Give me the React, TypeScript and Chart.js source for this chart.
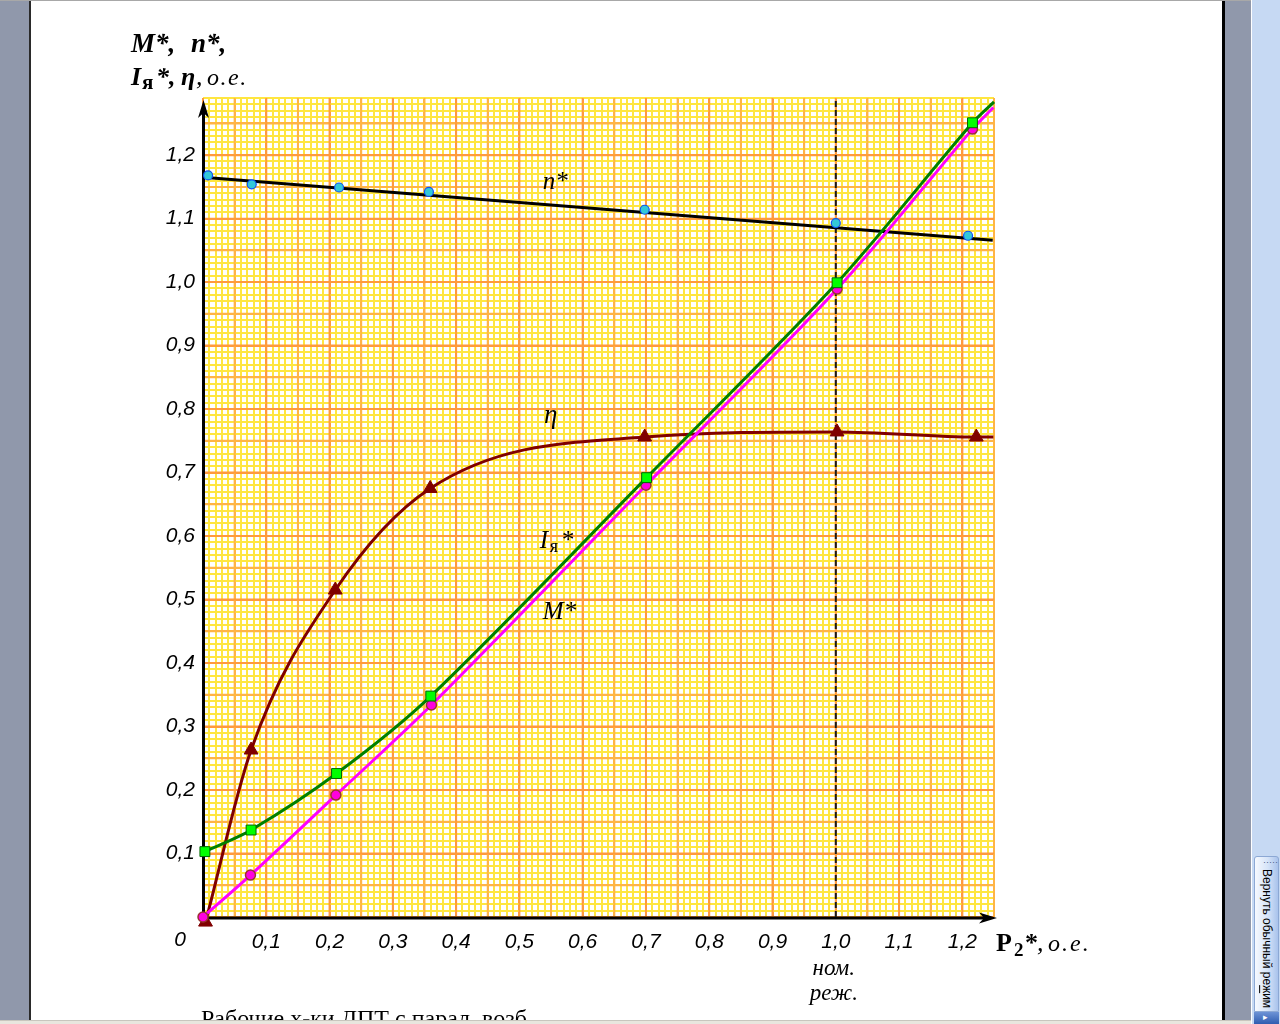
import React, { useEffect, useRef } from 'react';
import { Chart, registerables } from 'chart.js';

Chart.register(...registerables);

// ---- data (P2*, o.e.) ----
const N_P2 = [0.008, 0.077, 0.215, 0.357, 0.698, 1.0, 1.209];
const N_VAL = [1.168, 1.154, 1.149, 1.142, 1.114, 1.093, 1.073];
const N_FIT_P2 = [0, 1.248];
const N_FIT_VAL = [1.165, 1.066];

const M_P2 = [0, 0.075, 0.21, 0.361, 0.7, 1.002, 1.216];
const M_VAL = [0, 0.066, 0.192, 0.334, 0.68, 0.989, 1.241];
const M_END = [1.249, 1.275];

const I_P2 = [0.003, 0.076, 0.211, 0.36, 0.701, 1.002, 1.216];
const I_VAL = [0.103, 0.137, 0.226, 0.348, 0.692, 0.999, 1.251];
const I_END = [1.25, 1.284];

const ETA_P2 = [0.004, 0.076, 0.209, 0.359, 0.698, 1.002, 1.222];
const ETA_VAL = [-0.008, 0.263, 0.515, 0.675, 0.756, 0.764, 0.756];
const ETA_END = [1.249, 0.756];

const NOMINAL_P2 = 1.0;
const X_MAX = 1.25;
const Y_MAX = 1.29;
const GRID_STEP = 0.01;

const X_TICK_LABELS = ['0,1', '0,2', '0,3', '0,4', '0,5', '0,6', '0,7', '0,8', '0,9', '1,0', '1,1', '1,2'];
const Y_TICK_LABELS = ['0,1', '0,2', '0,3', '0,4', '0,5', '0,6', '0,7', '0,8', '0,9', '1,0', '1,1', '1,2'];

// ---- styles ----
const MINOR = '#FFE640';
const MID = '#FFB446';
const MAJOR = '#FF9A3D';
const SERIF = '"Liberation Serif", "Times New Roman", serif';
const SANS = '"Liberation Sans", Arial, sans-serif';

const pts = (xs: number[], ys: number[]) => xs.map((v, i) => ({ x: v, y: ys[i] }));
const withEnd = (xs: number[], ys: number[], end: number[]) => [...pts(xs, ys), { x: end[0], y: end[1] }];
const radii = (n: number, r: number) => [...Array(n).fill(r), 0];

const labelFor = (arr: string[]) => (v: number) => {
  const k = Math.round(v * 100);
  if (k > 0 && k % 10 === 0) return arr[k / 10 - 1] ?? '';
  return '';
};

const gridColor = (ctx: any) => {
  const k = Math.round(((ctx.tick && ctx.tick.value) || 0) * 100);
  return k % 10 === 0 ? MAJOR : k % 5 === 0 ? MID : MINOR;
};

const paperPlugin = {
  id: 'paper',
  beforeDatasetsDraw(chart: any) {
    const { ctx, chartArea: a, scales } = chart;
    const xs = scales.x;
    const ys = scales.y;
    ctx.save();
    for (const pass of [5, 10]) {
      ctx.strokeStyle = pass === 10 ? MAJOR : MID;
      ctx.lineWidth = 2;
      for (const t of xs.ticks) {
        const k = Math.round(t.value * 100);
        if (k % 5 !== 0 || (pass === 5 && k % 10 === 0) || (pass === 10 && k % 10 !== 0)) continue;
        const p = xs.getPixelForValue(t.value);
        ctx.beginPath();
        ctx.moveTo(p, a.top);
        ctx.lineTo(p, a.bottom);
        ctx.stroke();
      }
      for (const t of ys.ticks) {
        const k = Math.round(t.value * 100);
        if (k % 5 !== 0 || (pass === 5 && k % 10 === 0) || (pass === 10 && k % 10 !== 0)) continue;
        const p = ys.getPixelForValue(t.value);
        ctx.beginPath();
        ctx.moveTo(a.left, p);
        ctx.lineTo(a.right, p);
        ctx.stroke();
      }
    }
    // axes with arrows
    const x0 = xs.getPixelForValue(0) + 0.5;
    const y0 = ys.getPixelForValue(0) + 1;
    ctx.strokeStyle = '#000';
    ctx.fillStyle = '#000';
    ctx.lineWidth = 3;
    ctx.beginPath();
    ctx.moveTo(x0, y0 + 1.5);
    ctx.lineTo(x0, a.top + 12);
    ctx.stroke();
    ctx.beginPath();
    ctx.moveTo(x0 - 1.5, y0);
    ctx.lineTo(a.right - 6, y0);
    ctx.stroke();
    const ty = a.top + 2;
    ctx.beginPath();
    ctx.moveTo(x0, ty);
    ctx.lineTo(x0 + 5.5, ty + 18);
    ctx.lineTo(x0, ty + 13);
    ctx.lineTo(x0 - 5.5, ty + 18);
    ctx.closePath();
    ctx.fill();
    const tx = a.right + 3;
    ctx.beginPath();
    ctx.moveTo(tx, y0);
    ctx.lineTo(tx - 18, y0 - 5.5);
    ctx.lineTo(tx - 13, y0);
    ctx.lineTo(tx - 18, y0 + 5.5);
    ctx.closePath();
    ctx.fill();
    ctx.restore();
  },
};

type Run = { t: string; x: number; y: number; font: string; ls?: number; align?: CanvasTextAlign };

const textPlugin = {
  id: 'texts',
  afterDraw(chart: any) {
    const { ctx, scales } = chart;
    const xs = scales.x;
    const ys = scales.y;
    const X = (v: number) => xs.getPixelForValue(v);
    const Y = (v: number) => ys.getPixelForValue(v);
    const BI = (s: number) => `italic bold ${s}px ${SERIF}`;
    const B = (s: number) => `bold ${s}px ${SERIF}`;
    const It = (s: number) => `italic ${s}px ${SERIF}`;
    const R = (s: number) => `${s}px ${SERIF}`;
    const runs: Run[] = [
      // y-axis title
      { t: 'M*,', x: 131, y: 52, font: BI(27) },
      { t: 'n*,', x: 191, y: 52, font: BI(27) },
      { t: 'I', x: 131, y: 85, font: BI(26) },
      { t: 'я', x: 142, y: 89, font: B(21) },
      { t: '*,', x: 156, y: 85, font: BI(26) },
      { t: 'η', x: 181, y: 85, font: BI(26) },
      { t: ',', x: 196, y: 85, font: It(26) },
      { t: 'о.е.', x: 207, y: 85, font: It(24), ls: 1.5 },
      // x-axis title
      { t: 'P', x: 996, y: 951, font: B(26) },
      { t: '2', x: 1014, y: 956, font: B(19) },
      { t: '*', x: 1025, y: 951, font: B(26) },
      { t: ',', x: 1037, y: 951, font: It(26) },
      { t: 'о.е.', x: 1048, y: 951, font: It(24), ls: 2 },
      // origin
      { t: '0', x: 180, y: 946, font: `italic 21px ${SANS}`, align: 'center' },
      // nominal
      { t: 'ном.', x: X(NOMINAL_P2) - 2, y: 975, font: It(23), align: 'center' },
      { t: 'реж.', x: X(NOMINAL_P2) - 2, y: 1000, font: It(23), align: 'center' },
      // caption
      { t: 'Рабочие х-ки ДПТ с парал. возб.', x: 201, y: 1026, font: R(24) },
      // curve labels
      { t: 'n*', x: X(0.537), y: Y(1.147), font: It(25) },
      { t: 'η', x: X(0.539), y: Y(0.778), font: It(27) },
      { t: 'I', x: X(0.532), y: Y(0.581), font: It(25) },
      { t: 'я', x: X(0.532) + 10, y: Y(0.581) + 4, font: R(18) },
      { t: '*', x: X(0.532) + 21, y: Y(0.581), font: It(25) },
      { t: 'M*', x: X(0.537), y: Y(0.469), font: It(25) },
    ];
    ctx.save();
    ctx.fillStyle = '#000';
    ctx.textBaseline = 'alphabetic';
    for (const r of runs) {
      ctx.font = r.font;
      (ctx as any).letterSpacing = `${r.ls || 0}px`;
      ctx.textAlign = r.align || 'left';
      ctx.fillText(r.t, r.x, r.y);
    }
    ctx.restore();
  },
};

export default function App() {
  const ref = useRef<HTMLCanvasElement>(null);
  useEffect(() => {
    const canvas = ref.current;
    if (!canvas) return;
    const chart = new Chart(canvas, {
      type: 'line',
      data: {
        datasets: [
          {
            label: 'ном.',
            data: [{ x: NOMINAL_P2, y: 0 }, { x: NOMINAL_P2, y: Y_MAX }],
            borderColor: '#1a1a1a',
            borderWidth: 2,
            borderDash: [6, 3],
            pointRadius: 0,
            order: 9,
          },
          {
            label: 'n* fit',
            data: pts(N_FIT_P2, N_FIT_VAL),
            borderColor: '#000',
            borderWidth: 3,
            pointRadius: 0,
            order: 8,
          },
          {
            label: 'n*',
            data: pts(N_P2, N_VAL),
            showLine: false,
            pointRadius: 4.5,
            pointStyle: 'circle',
            pointBackgroundColor: '#33C8D8',
            pointBorderColor: '#1050F0',
            pointBorderWidth: 1.2,
            order: 7,
          },
          {
            label: 'η',
            data: withEnd(ETA_P2, ETA_VAL, ETA_END),
            borderColor: '#800000',
            borderWidth: 3,
            cubicInterpolationMode: 'monotone',
            pointRadius: radii(ETA_P2.length, 8),
            pointStyle: 'triangle',
            pointBackgroundColor: '#800000',
            pointBorderColor: '#800000',
            pointBorderWidth: 1,
            clip: 14,
            order: 4,
          },
          {
            label: 'M*',
            data: withEnd(M_P2, M_VAL, M_END),
            borderColor: '#FF00FF',
            borderWidth: 3,
            tension: 0.3,
            pointRadius: radii(M_P2.length, 5),
            pointStyle: 'circle',
            pointBackgroundColor: '#FF00E0',
            pointBorderColor: '#993333',
            pointBorderWidth: 1.5,
            clip: 14,
            order: 3,
          },
          {
            label: 'Iя*',
            data: withEnd(I_P2, I_VAL, I_END),
            borderColor: '#008000',
            borderWidth: 3,
            tension: 0.3,
            pointRadius: radii(I_P2.length, 7),
            pointStyle: 'rect',
            pointBackgroundColor: '#00FF00',
            pointBorderColor: '#006400',
            pointBorderWidth: 1,
            clip: 14,
            order: 2,
          },
        ],
      },
      options: {
        animation: false,
        responsive: false,
        events: [],
        layout: { autoPadding: false, padding: { left: 0, top: 98, right: 1280 - 994, bottom: 0 } },
        plugins: { legend: { display: false }, tooltip: { enabled: false }, title: { display: false } },
        scales: {
          x: {
            type: 'linear',
            min: 0,
            max: X_MAX,
            afterFit: (s: any) => { s.height = 1024 - 917; },
            border: { display: false },
            grid: { color: gridColor, lineWidth: 2, drawTicks: false },
            ticks: {
              stepSize: GRID_STEP,
              autoSkip: false,
              maxRotation: 0,
              padding: 13,
              color: '#000',
              font: { family: SANS, size: 21, style: 'italic' },
              callback: (v: any) => labelFor(X_TICK_LABELS)(Number(v)),
            },
          },
          y: {
            type: 'linear',
            min: 0,
            max: Y_MAX,
            afterFit: (s: any) => { s.width = 203; },
            border: { display: false },
            grid: { color: gridColor, lineWidth: 2, drawTicks: false },
            ticks: {
              stepSize: GRID_STEP,
              autoSkip: false,
              padding: 8,
              color: '#000',
              font: { family: SANS, size: 21, style: 'italic', lineHeight: 0.01 },
              callback: (v: any) => labelFor(Y_TICK_LABELS)(Number(v)),
            },
          },
        },
      } as any,
      plugins: [paperPlugin, textPlugin],
    });
    return () => chart.destroy();
  }, []);

  const abs = (l: number, t: number, w: number, h: number, extra: any = {}) => ({
    position: 'absolute' as const, left: l, top: t, width: w, height: h, ...extra,
  });

  return (
    <div style={{ position: 'fixed', left: 0, top: 0, width: 1280, height: 1024, overflow: 'hidden', background: '#e4e2da' }}>
      <div style={abs(0, 0, 1280, 1, { background: '#a8a8a8' })} />
      <div style={abs(31, 1, 1191, 1019, { background: '#ffffff' })} />
      <canvas ref={ref} width={1280} height={1024} style={abs(0, 0, 1280, 1024, { zIndex: 1 })} />
      <div style={abs(0, 1, 29, 1023, { background: '#9098ab', zIndex: 2 })} />
      <div style={abs(29, 1, 2, 1019, { background: '#2a2a2a', zIndex: 2 })} />
      <div style={abs(1222, 1, 3, 1019, { background: '#000', zIndex: 2 })} />
      <div style={abs(1225, 1, 26, 1019, { background: '#9098ab', zIndex: 2 })} />
      <div style={abs(0, 1020, 1251, 4, { background: '#e8e6de', borderTop: '1px solid #c8c6be', boxSizing: 'border-box', zIndex: 2 })} />
      <div style={abs(1251, 0, 1, 1024, { background: '#ffffff', zIndex: 2 })} />
      <div style={abs(1252, 0, 28, 1024, { background: '#c6d9f3', zIndex: 2 })} />
      <div
        style={abs(1254, 856, 25, 156, {
          zIndex: 3,
          boxSizing: 'border-box',
          border: '1px solid #8ca8d4',
          borderRadius: '3px 3px 0 0',
          background: 'linear-gradient(to right, #f6f9fe, #d6e4f8 55%, #a9c3ec)',
        })}
      >
        <div style={{ position: 'absolute', left: 8, top: 2, fontSize: 9, lineHeight: '6px', color: '#4a5f86', fontFamily: SANS, letterSpacing: 0 }}>·····</div>
        <div
          style={{
            position: 'absolute',
            left: 4,
            top: 12,
            writingMode: 'vertical-rl',
            fontFamily: SANS,
            fontSize: 12,
            color: '#000',
            whiteSpace: 'nowrap',
            lineHeight: '16px',
          }}
        >
          Вернуть обычный ре<u>ж</u>им
        </div>
      </div>
      <div style={abs(1254, 1012, 25, 12, { zIndex: 3, background: 'linear-gradient(to bottom, #6d93d6, #2f5cb0)' })}>
        <div style={{ position: 'absolute', left: 9, top: 0, fontSize: 9, color: '#fff', fontFamily: SANS }}>▸</div>
      </div>
    </div>
  );
}
